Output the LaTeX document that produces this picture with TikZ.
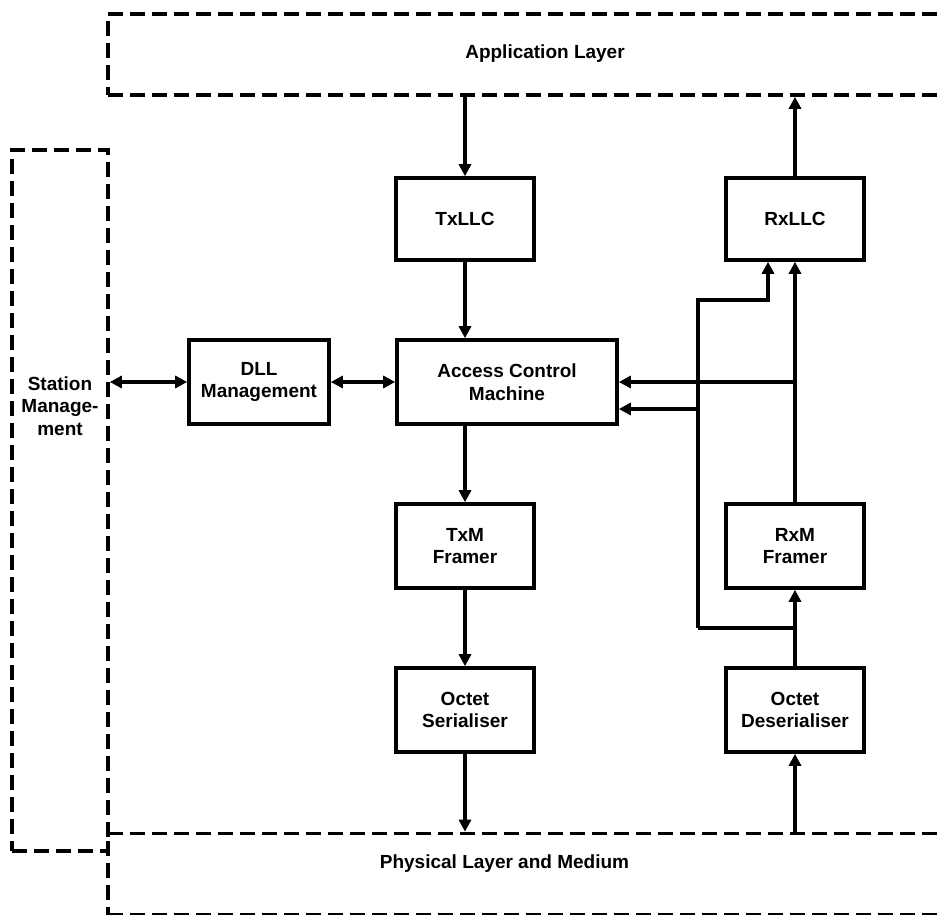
\documentclass[tikz,border=0pt]{standalone}
\usepackage{fontspec}
\setmainfont{Liberation Sans}
\usetikzlibrary{arrows.meta,calc}
\begin{document}
\begin{tikzpicture}[x=1pt,y=-1pt,
  every node/.style={font=\fontsize{19}{22.5}\selectfont\bfseries, align=center, inner sep=0pt},
  blk/.style={draw, line width=3.6pt, minimum width=138pt, minimum height=82pt},
  layerbox/.style={draw, line width=3.6pt, dash pattern=on 15pt off 7pt},
  arr/.style={line width=3.6pt, -{Triangle[length=12pt,width=12pt]}},
  darr/.style={line width=3.6pt, {Triangle[length=12pt,width=12pt]}-{Triangle[length=12pt,width=12pt]}}]
\useasboundingbox (0,0) rectangle (938,915);

% layer boxes
\node[layerbox, minimum width=880pt, minimum height=81pt] (app) at (548,54.5) {};
\node (apptxt) at (545,54) {Application Layer};
\node[layerbox, minimum width=96pt, minimum height=701pt] (sm) at (60,500.5) {};
\node (smtxt) at (60,406) {Station\\Manage-\\ment};
\node[layerbox, minimum width=880pt, minimum height=81pt] (phys) at (548,874) {};
\node (phystxt) at (504.5,864) {Physical Layer and Medium};

% blocks
\node[blk] (txllc) at (465,219) {TxLLC};
\node[blk] (rxllc) at (795,219) {RxLLC};
\node[blk, minimum width=140pt, minimum height=84pt] (dll) at (259,382) {DLL\\Management};
\node[blk, minimum width=220pt, minimum height=84pt] (acm) at (507,382) {Access Control\\Machine};
\node[blk, minimum height=84pt] (txm) at (465,546) {TxM\\Framer};
\node[blk, minimum height=84pt] (rxm) at (795,546) {RxM\\Framer};
\node[blk, minimum height=84pt] (oser) at (465,710) {Octet\\Serialiser};
\node[blk, minimum height=84pt] (odes) at (795,710) {Octet\\Deserialiser};

% transmit path
\draw[arr] (txllc.north |- app.south) -- (txllc.north);
\draw[arr] (txllc.south) -- (txllc.south |- acm.north);
\draw[arr] (txm.north |- acm.south) -- (txm.north);
\draw[arr] (txm.south) -- (oser.north);
\draw[arr] (oser.south) -- (oser.south |- phys.north);

% receive path
\draw[arr] (odes.south |- phys.north) -- (odes.south);
\draw[arr] (odes.north) -- (rxm.south);
\draw[arr] (rxm.north) -- (rxllc.south);
\draw[arr] (rxllc.north) -- (rxllc.north |- app.south);
\draw[arr] (acm.east -| rxm.north) -- (acm.east);

\coordinate (j1) at (795,628);
\coordinate (k1) at (698,628);
\coordinate (k2) at (698,300);
\coordinate (k3) at (768,300);
\coordinate (t2) at (698,409);
\draw[line width=3.6pt] (j1) -- (k1);
\draw[arr] (k1) -- (k2) -- (k3) -- (k3 |- rxllc.south);
\draw[arr] (t2) -- (t2 -| acm.east);

% management
\draw[darr] (sm.east |- dll.west) -- (dll.west);
\draw[darr] (dll.east) -- (acm.west);
\end{tikzpicture}
\end{document}
